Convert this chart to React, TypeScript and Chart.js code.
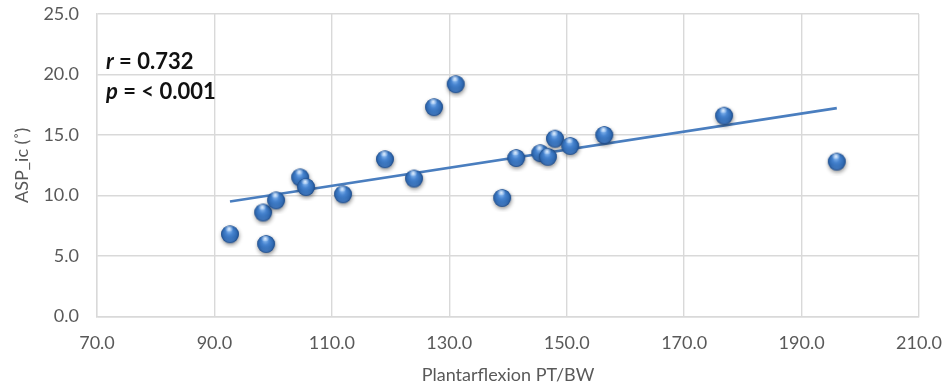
import { useEffect, useRef } from "react";
import { Chart, registerables } from "chart.js";

Chart.register(...registerables);

// Plantarflexion peak torque / body weight vs. ASP_ic angle
const ptBw = [
  92.65, 98.3, 98.8, 100.5, 104.6, 105.6, 111.9, 119.05, 124.0, 127.4,
  131.1, 139.0, 141.4, 145.5, 146.8, 148.0, 150.6, 156.4, 176.8, 196.0,
];
const aspIc = [
  6.8, 8.6, 6.0, 9.6, 11.5, 10.7, 10.1, 13.0, 11.4, 17.3,
  19.2, 9.8, 13.1, 13.5, 13.2, 14.7, 14.1, 15.0, 16.6, 12.8,
];

const xRange = [70, 210];
const yRange = [0, 25];
const xStep = 20;
const yStep = 5;

const statLines = [
  { sym: "r", rest: " = 0.732" },
  { sym: "p", rest: " = < 0.001" },
];

const FONT = "Lato, 'Open Sans', 'Liberation Sans', sans-serif";

// least-squares fit for the trend line
function linearFit(xs: number[], ys: number[]) {
  const n = xs.length;
  const mx = xs.reduce((a, b) => a + b, 0) / n;
  const my = ys.reduce((a, b) => a + b, 0) / n;
  let sxy = 0;
  let sxx = 0;
  for (let i = 0; i < n; i++) {
    sxy += (xs[i] - mx) * (ys[i] - my);
    sxx += (xs[i] - mx) * (xs[i] - mx);
  }
  const slope = sxy / sxx;
  return { slope, intercept: my - slope * mx };
}

// shaded ball used as the marker
function makeSphere(r: number): HTMLCanvasElement {
  const pad = 5;
  const size = Math.ceil(2 * (r + pad));
  const c = document.createElement("canvas");
  c.width = size;
  c.height = size;
  const g = c.getContext("2d")!;
  const cx = size / 2;
  const cy = size / 2;

  g.save();
  g.shadowColor = "rgba(0,0,0,0.45)";
  g.shadowBlur = 4;
  g.shadowOffsetX = 0.5;
  g.shadowOffsetY = 2;
  g.fillStyle = "#2a5c9e";
  g.beginPath();
  g.arc(cx, cy, r, 0, Math.PI * 2);
  g.fill();
  g.restore();

  const body = g.createRadialGradient(cx - r * 0.1, cy - r * 0.45, r * 0.1, cx, cy, r);
  body.addColorStop(0, "#80b2ec");
  body.addColorStop(0.35, "#4683cf");
  body.addColorStop(0.8, "#2e68b0");
  body.addColorStop(1, "#1d4a88");
  g.fillStyle = body;
  g.beginPath();
  g.arc(cx, cy, r, 0, Math.PI * 2);
  g.fill();

  // bottom reflected light
  const rim = g.createLinearGradient(0, cy + r * 0.3, 0, cy + r);
  rim.addColorStop(0, "rgba(90,140,210,0)");
  rim.addColorStop(1, "rgba(110,160,225,0.45)");
  g.fillStyle = rim;
  g.beginPath();
  g.arc(cx, cy, r * 0.92, 0, Math.PI * 2);
  g.fill();

  // specular highlight
  const hl = g.createRadialGradient(cx - r * 0.1, cy - r * 0.62, 0, cx - r * 0.1, cy - r * 0.62, r * 0.5);
  hl.addColorStop(0, "rgba(235,245,255,0.95)");
  hl.addColorStop(1, "rgba(200,225,255,0)");
  g.fillStyle = hl;
  g.beginPath();
  g.ellipse(cx - r * 0.1, cy - r * 0.62, r * 0.5, r * 0.32, 0, 0, Math.PI * 2);
  g.fill();

  return c;
}

const statsPlugin = {
  id: "statsText",
  afterDraw(chart: Chart) {
    const { ctx, chartArea } = chart;
    ctx.save();
    ctx.fillStyle = "#111111";
    ctx.textBaseline = "middle";
    const x0 = chartArea.left + 9;
    statLines.forEach((line, i) => {
      const y = chartArea.top + 48 + i * 30;
      ctx.font = `italic bold 22px ${FONT}`;
      ctx.fillText(line.sym, x0, y);
      const w = ctx.measureText(line.sym).width;
      ctx.font = `bold 22px ${FONT}`;
      ctx.fillText(line.rest, x0 + w, y);
    });
    ctx.restore();
  },
};

export default function App() {
  const canvasRef = useRef<HTMLCanvasElement | null>(null);

  useEffect(() => {
    const canvas = canvasRef.current;
    if (!canvas) return;

    const fit = linearFit(ptBw, aspIc);
    const xMin = Math.min(...ptBw);
    const xMax = Math.max(...ptBw);
    const trend = [xMin, xMax].map((x) => ({ x, y: fit.intercept + fit.slope * x }));
    const points = ptBw.map((x, i) => ({ x, y: aspIc[i] }));
    const sphere = makeSphere(8.8);

    const gridColor = "#d9d9d9";
    const tickColor = "#595959";

    const chart = new Chart(canvas, {
      type: "scatter",
      data: {
        datasets: [
          {
            label: "ASP_ic",
            data: points,
            pointStyle: sphere as any,
            pointRadius: 9,
            order: 1,
          },
          {
            type: "line",
            label: "Linear",
            data: trend,
            showLine: true,
            borderColor: "#4a7ebf",
            borderWidth: 2.6,
            pointRadius: 0,
            fill: false,
            order: 2,
          } as any,
        ],
      },
      options: {
        responsive: false,
        animation: false,
        events: [],
        layout: { padding: { top: 14, right: 30, left: 0, bottom: 0 } },
        plugins: {
          legend: { display: false },
          tooltip: { enabled: false },
        },
        scales: {
          x: {
            type: "linear",
            min: xRange[0],
            max: xRange[1],
            ticks: {
              stepSize: xStep,
              color: tickColor,
              padding: 16,
              font: { family: FONT, size: 18 },
              callback: (v: any) => Number(v).toFixed(1),
            },
            grid: { color: gridColor, lineWidth: 1.4, drawTicks: false },
            border: { color: gridColor, width: 1.4 },
            title: {
              display: true,
              text: "Plantarflexion PT/BW",
              color: tickColor,
              font: { family: FONT, size: 18 },
              padding: { top: 0, bottom: 4 },
            },
            afterFit: (scale: any) => {
              scale.height = 73.5;
              scale.paddingLeft = 0;
              scale.paddingRight = 0;
            },
          },
          y: {
            type: "linear",
            min: yRange[0],
            max: yRange[1],
            ticks: {
              stepSize: yStep,
              color: tickColor,
              padding: 18,
              font: { family: FONT, size: 18 },
              callback: (v: any) => Number(v).toFixed(1),
            },
            grid: { color: gridColor, lineWidth: 1.4, drawTicks: false },
            border: { color: gridColor, width: 1.4 },
            title: {
              display: true,
              text: "ASP_ic (˚)",
              color: tickColor,
              font: { family: FONT, size: 18 },
              padding: { top: 11, bottom: 0 },
            },
            afterFit: (scale: any) => {
              scale.width = 97;
              scale.paddingTop = 0;
              scale.paddingBottom = 0;
            },
          },
        },
      },
      plugins: [statsPlugin],
    });

    return () => chart.destroy();
  }, []);

  return (
    <div style={{ position: "fixed", left: 0, top: 0, width: 949, height: 390, background: "#ffffff" }}>
      <canvas ref={canvasRef} width={949} height={390} />
    </div>
  );
}
